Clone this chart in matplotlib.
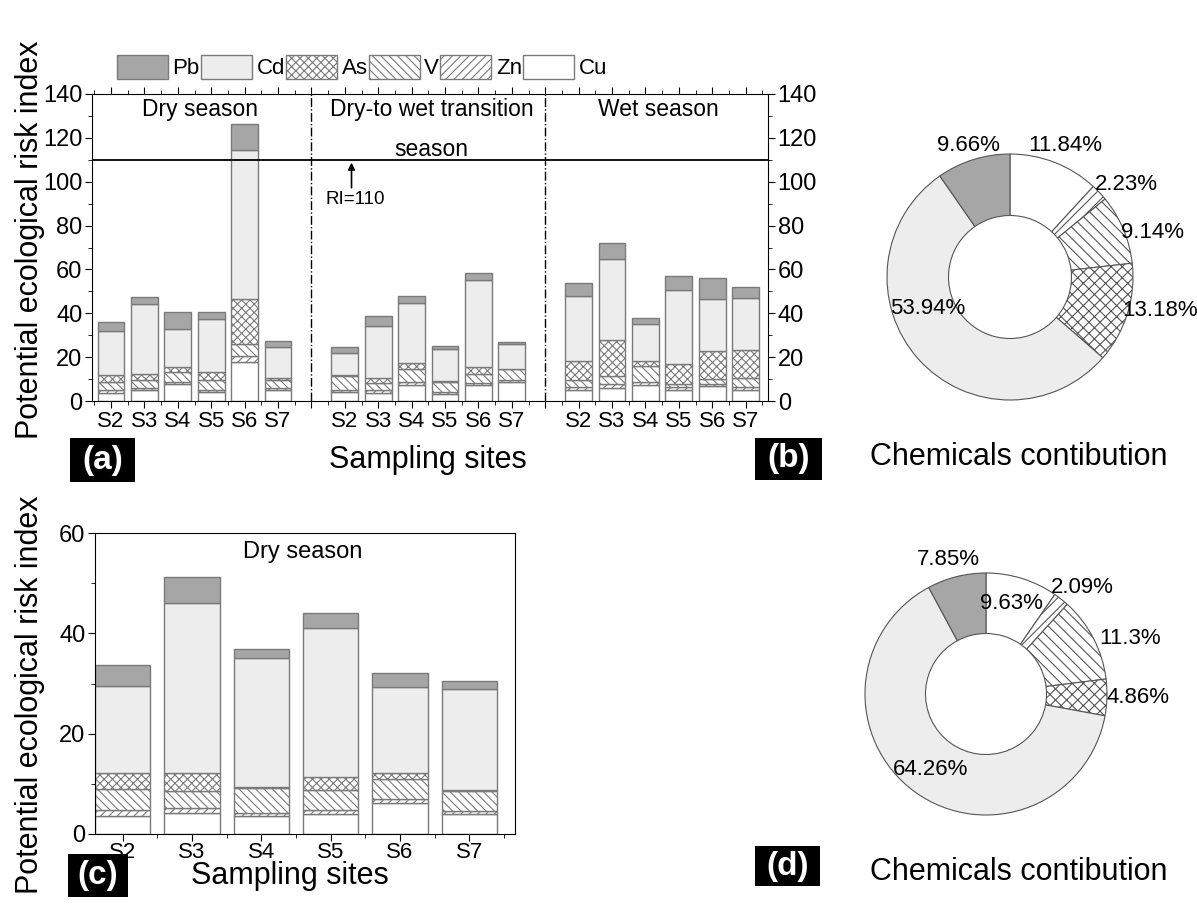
import numpy as np
import matplotlib
matplotlib.use("Agg")
import matplotlib.pyplot as plt
from matplotlib.patches import Patch, Rectangle
from matplotlib.ticker import MultipleLocator, FixedLocator

plt.rcParams['font.family'] = ['Liberation Sans', 'DejaVu Sans']
plt.rcParams['hatch.linewidth'] = 0.8

# ---- data -------------------------------------------------------------
sites = ['S2', 'S3', 'S4', 'S5', 'S6', 'S7']
seasons = ['Dry season', 'Dry-to wet transition\nseason', 'Wet season']

# panel (a): dry (6), transition (6), wet (6)
cu_a = [3.7, 5.0, 7.6, 4.1, 17.7, 4.9,  4.1, 3.8, 7.5, 3.1, 7.2, 8.7,  5.2, 6.1, 7.2, 4.9, 6.7, 4.9]
zn_a = [1.3, 1.1, 1.1, 1.1, 2.7, 1.2,   1.1, 1.1, 1.2, 1.0, 1.0, 0.8,  1.2, 1.5, 1.5, 1.5, 1.2, 1.5]
v_a = [3.5, 3.5, 4.3, 4.3, 5.8, 3.4,    6.2, 3.5, 6.1, 4.6, 4.3, 5.0,  3.1, 3.7, 7.3, 1.5, 2.3, 4.3]
as_a = [3.2, 2.6, 2.5, 3.6, 20.4, 1.0,  0.3, 2.3, 2.7, 0.2, 3.0, 0.3,  8.6, 16.4, 2.3, 9.2, 12.5, 12.4]
cd_a = [20.0, 32.0, 17.2, 24.5, 67.9, 13.9,  10.4, 23.7, 27.0, 14.9, 39.9, 11.1,
        30.0, 36.9, 16.6, 33.4, 23.6, 23.7]
pb_a = [4.1, 3.4, 7.9, 3.2, 11.7, 3.0,  2.4, 4.4, 3.3, 1.5, 3.0, 1.0,  5.8, 7.3, 3.1, 6.6, 9.9, 5.2]

# panel (c): dry season
cu_c = [3.6, 4.2, 3.6, 3.9, 6.1, 4.0]
zn_c = [1.2, 0.9, 0.6, 0.9, 0.8, 0.6]
v_c = [4.2, 3.4, 5.0, 3.9, 4.0, 3.9]
as_c = [3.2, 3.7, 0.1, 2.7, 1.2, 0.2]
cd_c = [17.4, 33.8, 25.7, 29.7, 17.3, 20.2]
pb_c = [4.1, 5.3, 1.8, 2.9, 2.7, 1.6]

ri_limit = 110

# pie shares (%), clockwise from top
pie_metals = ['Cu', 'Zn', 'V', 'As', 'Cd', 'Pb']
pie_b = [11.84, 2.23, 9.14, 13.18, 53.94, 9.66]
pie_d = [9.63, 2.09, 11.3, 4.86, 64.26, 7.85]

# ---- styles -----------------------------------------------------------
edge = '#7a7a7a'
style = {
    'Pb': dict(facecolor='#a6a6a6', hatch=None),
    'Cd': dict(facecolor='#ededed', hatch=None),
    'As': dict(facecolor='white', hatch='xxxx'),
    'V': dict(facecolor='white', hatch='\\\\\\\\'),
    'Zn': dict(facecolor='white', hatch='////'),
    'Cu': dict(facecolor='white', hatch=None),
}
stack_order = ['Cu', 'Zn', 'V', 'As', 'Cd', 'Pb']

W, H = 1197, 908
fig = plt.figure(figsize=(W / 100, H / 100), dpi=100)


def stacked(ax, x, layers, width=0.8):
    bottom = np.zeros(len(x))
    for name in stack_order:
        vals = np.array(layers[name])
        ax.bar(x, vals, width, bottom=bottom, edgecolor=edge, linewidth=1.0,
               **style[name])
        bottom += vals


def ticks(ax):
    ax.tick_params(which='both', direction='out', labelsize=17, pad=2)
    ax.tick_params(which='major', length=5)
    ax.tick_params(which='minor', length=3)


# ---- panel (a) --------------------------------------------------------
ax1 = fig.add_axes([92 / W, 1 - 401 / H, 676 / W, 307 / H])
xa = np.concatenate([np.arange(1, 7), np.arange(8, 14), np.arange(15, 21)])
stacked(ax1, xa, {'Cu': cu_a, 'Zn': zn_a, 'V': v_a, 'As': as_a, 'Cd': cd_a, 'Pb': pb_a})
ax1.set_xlim(0.43, 20.67)
ax1.set_ylim(0, 140)
ax1.axhline(ri_limit, color='black', lw=1.3)
for d in (7, 14):
    ax1.axvline(d, color='black', lw=1.0, ls='-.')
ax1.set_xticks(np.arange(1, 21))
ax1.xaxis.set_minor_locator(FixedLocator(np.arange(0.5, 21, 1)))
ax1.yaxis.set_major_locator(MultipleLocator(20))
ax1.yaxis.set_minor_locator(MultipleLocator(10))
ticks(ax1)
ax1.tick_params(which='both', top=True, right=True, labelright=True)
ax1.set_xticklabels([sites[(i - 1) % 7] if i % 7 else '' for i in range(1, 21)],
                    fontsize=16)
for s, xc in zip(seasons, (3.66, 10.6, 17.4)):
    ax1.text(xc, 138, s, ha='center', va='top', fontsize=16.5, linespacing=1.95)
ax1.annotate('', xy=(8.2, ri_limit), xytext=(8.2, 96),
             arrowprops=dict(arrowstyle='-|>', color='black', lw=1.2, mutation_scale=10))
ax1.text(8.3, 91.7, 'RI=110', ha='center', va='center', fontsize=13.5)

handles = [Patch(edgecolor=edge, label=m, **style[m]) for m in ['Pb', 'Cd', 'As', 'V', 'Zn', 'Cu']]
fig.legend(handles=handles, loc='center', bbox_to_anchor=(362 / W, 1 - 67 / H), ncol=6,
           frameon=False, fontsize=16, handlelength=2.3, handleheight=1.35,
           handletextpad=0.2, columnspacing=0.05, borderpad=0)

# ---- panel (c) --------------------------------------------------------
ax3 = fig.add_axes([95 / W, 1 - 834 / H, 420 / W, 301 / H])
xc = np.arange(1, 7)
stacked(ax3, xc, {'Cu': cu_c, 'Zn': zn_c, 'V': v_c, 'As': as_c, 'Cd': cd_c, 'Pb': pb_c})
ax3.set_xlim(0.6, 6.66)
ax3.set_ylim(0, 60)
ax3.set_xticks(xc)
ax3.xaxis.set_minor_locator(FixedLocator(np.arange(0.5, 7, 1)))
ax3.yaxis.set_major_locator(MultipleLocator(20))
ax3.yaxis.set_minor_locator(MultipleLocator(10))
ticks(ax3)
ax3.tick_params(axis='x', pad=1)
ax3.set_xticklabels(sites, fontsize=16)
ax3.text(3.59, 56.2, 'Dry season', ha='center', va='center', fontsize=17)

# ---- pies -------------------------------------------------------------
def donut(rect, shares, label_pos):
    ax = fig.add_axes(rect)
    wedges, _ = ax.pie(shares, startangle=90, counterclock=False, radius=1,
                       wedgeprops=dict(width=0.5, edgecolor='#555555', linewidth=0.8))
    for w, m in zip(wedges, pie_metals):
        w.set_facecolor(style[m]['facecolor'])
        if style[m]['hatch']:
            w.set_hatch(style[m]['hatch'][:3])
    for val, (px, py) in zip(shares, label_pos):
        ax.text(px, py, f'{val:g}%', ha='center', va='center', fontsize=16)
    ax.set_xlim(-1, 1)
    ax.set_ylim(-1, 1)
    ax.set_aspect('equal')
    return ax

donut([887 / W, 1 - 400 / H, 246 / W, 246 / H], pie_b,
      [(0.45, 1.07), (0.95, 0.75), (1.16, 0.36), (1.22, -0.27), (-0.67, -0.26), (-0.34, 1.07)])
donut([865 / W, 1 - 815 / H, 242 / W, 242 / H], pie_d,
      [(0.21, 0.75), (0.80, 0.88), (1.19, 0.46), (1.26, -0.03), (-0.46, -0.62), (-0.31, 1.11)])

# ---- labels -----------------------------------------------------------
ylab = 'Potential ecological risk index'
fig.text(30 / W, 1 - 240 / H, ylab, rotation=90, ha='center', va='center', fontsize=22)
fig.text(30 / W, 1 - 695 / H, ylab, rotation=90, ha='center', va='center', fontsize=22)
fig.text(428 / W, 1 - 460 / H, 'Sampling sites', ha='center', va='center', fontsize=22)
fig.text(290 / W, 1 - 876 / H, 'Sampling sites', ha='center', va='center', fontsize=22)
fig.text(1019 / W, 1 - 457 / H, 'Chemicals contibution', ha='center', va='center', fontsize=22)
fig.text(1019 / W, 1 - 872 / H, 'Chemicals contibution', ha='center', va='center', fontsize=22)

# black tag boxes: (label, left, top, right, bottom) in pixels
for lab, x0, y0, x1, y1 in [('(a)', 70, 438, 135, 482), ('(b)', 755, 438, 822, 480),
                            ('(c)', 68, 854, 128, 897), ('(d)', 755, 846, 820, 886)]:
    fig.patches.append(Rectangle((x0 / W, 1 - y1 / H), (x1 - x0) / W, (y1 - y0) / H,
                                 transform=fig.transFigure, facecolor='black',
                                 edgecolor='none'))
    fig.text((x0 + x1) / 2 / W, 1 - (y0 + y1) / 2 / H, lab, ha='center', va='center',
             fontsize=24, fontweight='bold', color='white')

fig.savefig('out.png', dpi=100)
